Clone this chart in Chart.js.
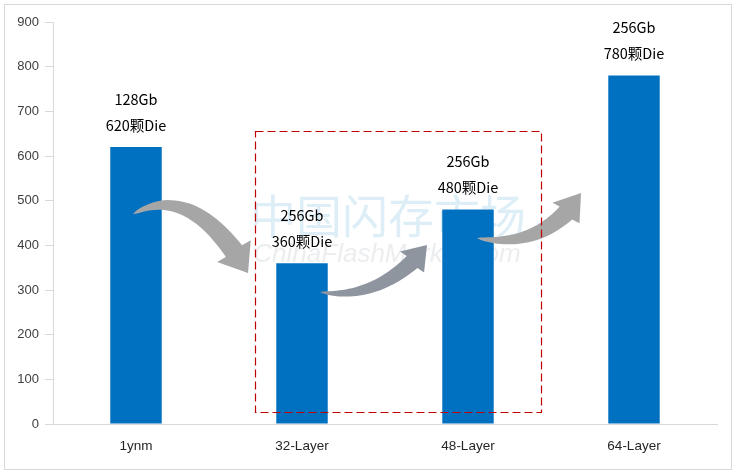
<!DOCTYPE html>
<html>
<head>
<meta charset="utf-8">
<script src="https://cdn.jsdelivr.net/npm/chart.js@4"></script>
<style>
  body { margin: 0; background: #fff; }
  #wrap { width: 736px; height: 474px; }
</style>
</head>
<body>
<div id="wrap"><canvas id="dieChart" width="736" height="474"></canvas></div>
<script>
var categories = ["1ynm", "32-Layer", "48-Layer", "64-Layer"];
var dieCounts = [620, 360, 480, 780];
var capacities = ["128Gb", "256Gb", "256Gb", "256Gb"];
var yTicks = [0, 100, 200, 300, 400, 500, 600, 700, 800, 900];

// dashed box round the 3D parts, in category index / value units
var boxRange = { x0: 0.717, x1: 2.44, y0: 27, y1: 656 };

// curved arrows: tail, control, head base, tip (index / value units)
var arrows = [
  { t: [-0.018, 470], c: [0.295, 535], b: [0.59, 387], p: [0.675, 338], bw: 20, hw: 40, color: "#a6a6a6" },
  { t: [1.108, 295.5], c: [1.41, 277.6], b: [1.663, 362.7], p: [1.753, 400.7], bw: 16, hw: 32, color: "#8e959f" },
  { t: [2.054, 416.4], c: [2.373, 394], b: [2.59, 472.4], p: [2.681, 517], bw: 18, hw: 34, color: "#a6a6a6" }
];

function drawArrow(ctx, x, y, a) {
  var T = [x.getPixelForValue(a.t[0]), y.getPixelForValue(a.t[1])];
  var C = [x.getPixelForValue(a.c[0]), y.getPixelForValue(a.c[1])];
  var B = [x.getPixelForValue(a.b[0]), y.getPixelForValue(a.b[1])];
  var P = [x.getPixelForValue(a.p[0]), y.getPixelForValue(a.p[1])];
  var left = [], right = [];
  var n = 30;
  for (var i = 0; i <= n; i++) {
    var s = i / n;
    var px = (1 - s) * (1 - s) * T[0] + 2 * (1 - s) * s * C[0] + s * s * B[0];
    var py = (1 - s) * (1 - s) * T[1] + 2 * (1 - s) * s * C[1] + s * s * B[1];
    var dx = 2 * (1 - s) * (C[0] - T[0]) + 2 * s * (B[0] - C[0]);
    var dy = 2 * (1 - s) * (C[1] - T[1]) + 2 * s * (B[1] - C[1]);
    var len = Math.sqrt(dx * dx + dy * dy) || 1;
    var nx = -dy / len, ny = dx / len;
    var w = (a.bw / 2) * Math.pow(s, 0.6);
    left.push([px + nx * w, py + ny * w]);
    right.push([px - nx * w, py - ny * w]);
  }
  var hx = P[0] - B[0], hy = P[1] - B[1];
  var hl = Math.sqrt(hx * hx + hy * hy);
  var hnx = -hy / hl, hny = hx / hl;
  ctx.save();
  ctx.fillStyle = a.color;
  ctx.beginPath();
  ctx.moveTo(left[0][0], left[0][1]);
  for (var j = 1; j < left.length; j++) ctx.lineTo(left[j][0], left[j][1]);
  ctx.lineTo(B[0] + hnx * a.hw / 2, B[1] + hny * a.hw / 2);
  ctx.lineTo(P[0], P[1]);
  ctx.lineTo(B[0] - hnx * a.hw / 2, B[1] - hny * a.hw / 2);
  for (var k = right.length - 1; k >= 0; k--) ctx.lineTo(right[k][0], right[k][1]);
  ctx.closePath();
  ctx.fill();
  ctx.restore();
}

var decorPlugin = {
  id: "decor",
  beforeDraw: function (chart) {
    var ctx = chart.ctx;
    ctx.save();
    ctx.strokeStyle = "#d9d9d9";
    ctx.lineWidth = 1;
    ctx.strokeRect(4.5, 4.5, 727, 465);
    ctx.restore();
  },
  beforeDatasetsDraw: function (chart) {
    var ctx = chart.ctx;
    var x = chart.scales.x;
    var cx = x.getPixelForValue(1.5);
    ctx.save();
    ctx.textAlign = "center";
    ctx.textBaseline = "alphabetic";
    ctx.fillStyle = "rgba(170, 212, 236, 0.4)";
    ctx.font = "46px 'Noto Sans CJK SC'";
    ctx.fillText("中国闪存市场", cx + 3, 233);
    ctx.fillStyle = "rgba(190, 196, 202, 0.3)";
    ctx.font = "italic 26px 'Liberation Sans'";
    ctx.fillText("ChinaFlashMarket.com", cx + 2, 262);
    ctx.restore();
  },
  afterDatasetsDraw: function (chart) {
    var ctx = chart.ctx;
    var x = chart.scales.x, y = chart.scales.y;
    var meta = chart.getDatasetMeta(0);
    ctx.save();
    ctx.fillStyle = "#000";
    ctx.textAlign = "center";
    ctx.textBaseline = "middle";
    ctx.font = "14.5px 'Noto Sans CJK SC'";
    meta.data.forEach(function (bar, i) {
      ctx.fillText(capacities[i], bar.x, bar.y - 48);
      ctx.fillText(dieCounts[i] + "颗Die", bar.x, bar.y - 22);
    });
    ctx.restore();

    arrows.forEach(function (a) { drawArrow(ctx, x, y, a); });

    var bx0 = Math.round(x.getPixelForValue(boxRange.x0)) + 0.5;
    var bx1 = Math.round(x.getPixelForValue(boxRange.x1)) + 0.5;
    var by0 = Math.round(y.getPixelForValue(boxRange.y1)) + 0.5;
    var by1 = Math.round(y.getPixelForValue(boxRange.y0)) + 0.5;
    ctx.save();
    ctx.strokeStyle = "#c00000";
    ctx.lineWidth = 1.2;
    ctx.setLineDash([8, 4]);
    ctx.beginPath();
    ctx.moveTo(bx0, by0);
    ctx.lineTo(bx1, by0);
    ctx.lineTo(bx1, by1);
    ctx.lineTo(bx0, by1);
    ctx.closePath();
    ctx.stroke();
    ctx.restore();
  }
};

var ctx = document.getElementById("dieChart").getContext("2d");
var dieChart = new Chart(ctx, {
  type: "bar",
  data: {
    labels: categories,
    datasets: [
      {
        data: dieCounts,
        backgroundColor: "#0070c0",
        borderWidth: 0,
        barPercentage: 0.31,
        categoryPercentage: 1.0,
      },
    ],
  },
  options: {
    responsive: false,
    animation: false,
    layout: { padding: { top: 22, right: 19, bottom: 0, left: 0 } },
    plugins: {
      legend: { display: false },
      tooltip: { enabled: false },
    },
    scales: {
      x: {
        grid: { display: false, drawTicks: false },
        border: { display: true, color: "#d9d9d9", width: 1 },
        ticks: {
          color: "#262626",
          font: { family: "'Liberation Sans'", size: 13.5 },
          padding: 14,
        },
        afterFit: function (scale) { scale.height = 50; },
      },
      y: {
        min: 0,
        max: 900,
        afterBuildTicks: function (scale) {
          scale.ticks = yTicks.map(function (v) { return { value: v }; });
        },
        grid: { drawOnChartArea: false, drawTicks: true, tickLength: 8, color: "#d9d9d9" },
        border: { display: true, color: "#d9d9d9", width: 1 },
        ticks: {
          color: "#404040",
          font: { family: "'Liberation Sans'", size: 13 },
          padding: 6,
        },
        afterFit: function (scale) { scale.width = 53; },
      },
    },
  },
  plugins: [decorPlugin],
});
</script>
</body>
</html>
